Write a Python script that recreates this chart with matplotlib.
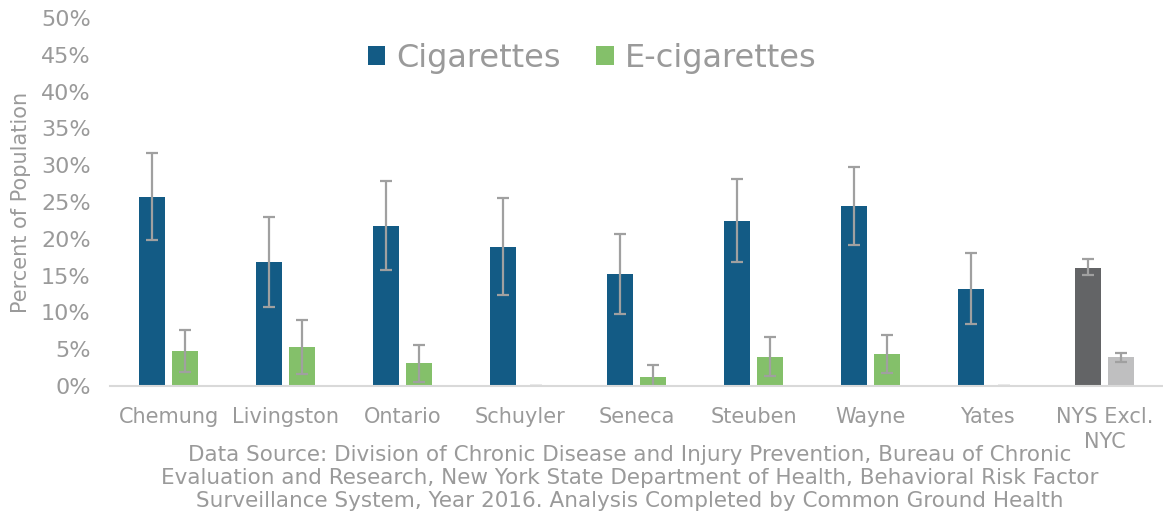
import matplotlib.pyplot as plt
import numpy as np

# county names on the x axis
counties = ['Chemung', 'Livingston', 'Ontario', 'Schuyler', 'Seneca',
            'Steuben', 'Wayne', 'Yates', 'NYS Excl.\nNYC']

# percent of population
cig = [25.7, 16.8, 21.8, 18.9, 15.2, 22.4, 24.4, 13.2, 16.1]
cig_low = [19.9, 10.7, 15.8, 12.3, 9.8, 16.9, 19.1, 8.4, 15.1]
cig_high = [31.7, 23.0, 27.9, 25.5, 20.7, 28.1, 29.7, 18.1, 17.2]

ecig = [4.7, 5.3, 3.1, 0.0, 1.2, 4.0, 4.4, 0.0, 3.9]
ecig_low = [1.9, 1.6, 0.5, 0.0, 0.0, 1.4, 1.8, 0.0, 3.2]
ecig_high = [7.6, 9.0, 5.6, 0.0, 2.9, 6.7, 6.9, 0.0, 4.5]

yticks = [0, 5, 10, 15, 20, 25, 30, 35, 40, 45, 50]

grey_txt = '#9a9a9a'
blue = '#135b85'
green = '#84c06a'

fig = plt.figure(figsize=(11.63, 5.16), dpi=100)
ax = fig.add_axes([0.0946, 0.252, 0.9054, 0.713])

x = np.arange(len(counties))
w = 0.225
off = 0.143

cig_colors = [blue] * (len(counties) - 1) + ['#636466']
ecig_colors = [green] * (len(counties) - 1) + ['#bfbfc0']

cig = np.array(cig)
ecig = np.array(ecig)
cig_err = [cig - np.array(cig_low), np.array(cig_high) - cig]
ecig_err = [ecig - np.array(ecig_low), np.array(ecig_high) - ecig]

ax.bar(x - off, cig, w, color=cig_colors, label='Cigarettes')
ax.bar(x + off, ecig, w, color=ecig_colors, label='E-cigarettes')
ax.errorbar(x - off, cig, yerr=cig_err, fmt='none', ecolor='#a0a0a0',
            elinewidth=1.6, capsize=4.5, capthick=1.6)
ax.errorbar(x + off, ecig, yerr=ecig_err, fmt='none', ecolor='#a0a0a0',
            elinewidth=1.6, capsize=4.5, capthick=1.6)

ax.set_xlim(-0.5, len(counties) - 0.5)
ax.set_ylim(0, 50)
ax.set_yticks(yticks)
ax.set_yticklabels([f'{t}%' for t in yticks], fontsize=16)
ax.set_xticks(x)
ax.set_xticklabels(counties, linespacing=1.3, fontsize=15)

for s in ['top', 'right', 'left']:
    ax.spines[s].set_visible(False)
ax.spines['bottom'].set_color('#d9d9d9')
ax.spines['bottom'].set_linewidth(1.5)
ax.tick_params(axis='both', length=0, colors=grey_txt)
ax.tick_params(axis='x', pad=15)
ax.tick_params(axis='y', pad=14)

ax.set_ylabel('Percent of Population', fontsize=15, color=grey_txt, labelpad=7)

leg = ax.legend(loc='upper center', bbox_to_anchor=(0.458, 1.01), ncol=2,
                frameon=False, fontsize=23, handlelength=0.55, handleheight=0.55,
                columnspacing=1.1, handletextpad=0.35)
for t in leg.get_texts():
    t.set_color(grey_txt)

fig.text(0.5417, 0.0736,
         'Data Source: Division of Chronic Disease and Injury Prevention, Bureau of Chronic\n'
         'Evaluation and Research, New York State Department of Health, Behavioral Risk Factor\n'
         'Surveillance System, Year 2016. Analysis Completed by Common Ground Health',
         ha='center', va='center', fontsize=15.5, color=grey_txt, linespacing=1.18)

fig.savefig('out.png', dpi=100)
